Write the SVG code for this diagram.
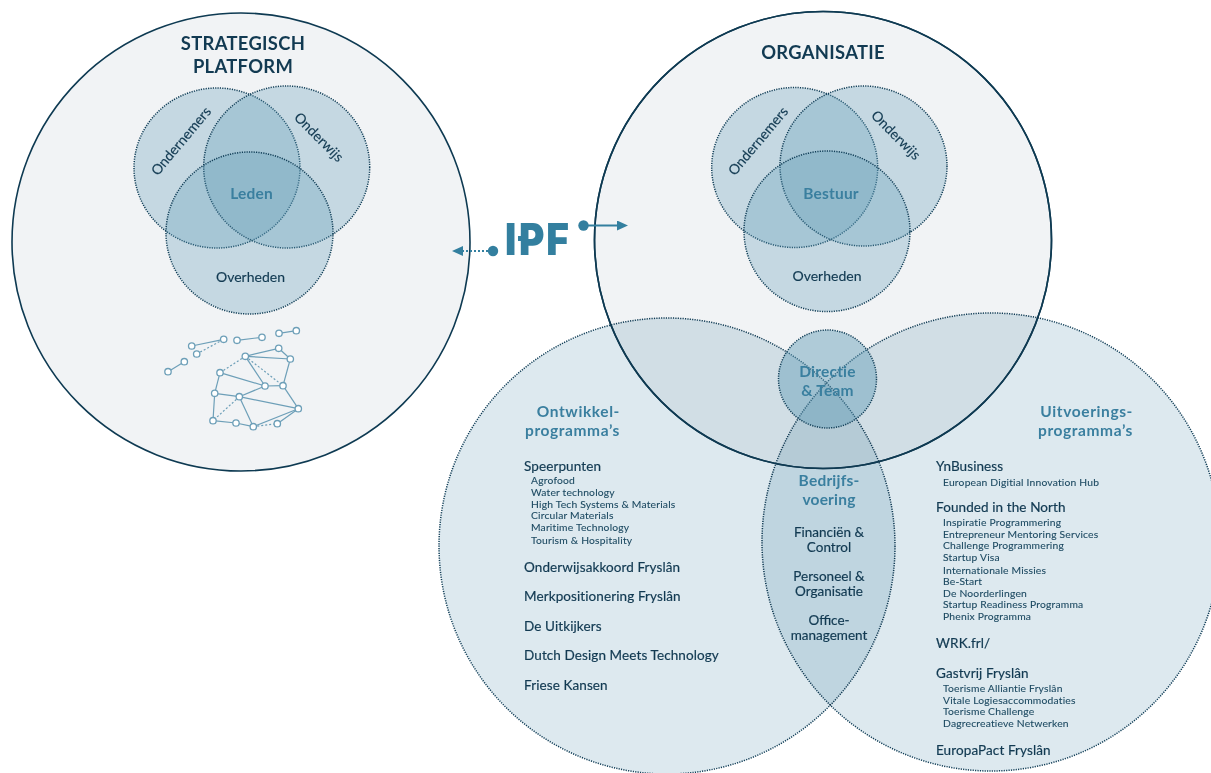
<svg xmlns="http://www.w3.org/2000/svg" width="1211" height="773" viewBox="0 0 1211 773">
<style>
text{font-family:"Lato","Liberation Sans",sans-serif;fill:#123a52}
.big{fill:#f1f3f5;stroke:#0e3a52;stroke-width:1.6}
.v{fill:#5f9cb6;fill-opacity:.3;stroke:#123f58;stroke-width:1.5;stroke-dasharray:1.2 1.2}
.b{fill:#dde9ef;stroke:#123f58;stroke-width:1.5;stroke-dasharray:1.2 1.2;mix-blend-mode:multiply}
.o{fill:none;stroke:#0e3a52;stroke-width:1.6}
.t{font-size:18.4px;font-weight:700;text-anchor:middle;letter-spacing:.3px}
.a{font-size:14px;text-anchor:middle;stroke:#123a52;stroke-width:.15}
.h{font-size:15.5px;font-weight:700;fill:#3a7f9f;text-anchor:middle;letter-spacing:.2px}
.hr{font-size:15.5px;font-weight:700;fill:#3a7f9f;text-anchor:end;letter-spacing:.6px}
.m{font-size:13.5px;letter-spacing:.1px;stroke:#123a52;stroke-width:.2}
.c{font-size:13.5px;text-anchor:middle;stroke:#123a52;stroke-width:.2}
.s{font-size:10.3px;letter-spacing:.2px;fill:#1d4a62;stroke:#1d4a62;stroke-width:.1}
.n line{stroke:#6d9fb8;stroke-width:1.2}
.n line.d{stroke-dasharray:2 2}
.n circle{fill:#fff;stroke:#6d9fb8;stroke-width:1.3}
.l{stroke:#337f9f;stroke-width:2}
.dot{fill:#337f9f}
</style>
<defs>
<marker id="ah" markerWidth="11" markerHeight="10" refX="1" refY="5" orient="auto" markerUnits="userSpaceOnUse"><path d="M0 0L11 5L0 10Z" fill="#337f9f"/></marker>
</defs>
<rect width="1211" height="773" fill="#fff"/>

<g id="platform">
<circle class="big" cx="241" cy="242" r="229"/>
<text class="t" x="243" y="50">STRATEGISCH</text>
<text class="t" x="243" y="73">PLATFORM</text>
</g>
<g id="platform-ondernemers"><ellipse class="v" cx="217" cy="168" rx="83" ry="80"/></g>
<g id="platform-onderwijs"><ellipse class="v" cx="286.7" cy="167" rx="83" ry="81"/></g>
<g id="platform-overheden"><ellipse class="v" cx="249.5" cy="233" rx="83.5" ry="81"/></g>
<text class="a" transform="translate(181 141) rotate(-50)" y="5">Ondernemers</text>
<text class="a" transform="translate(319 137) rotate(45)" y="5">Onderwijs</text>
<text class="a" x="250.5" y="282">Overheden</text>
<text class="h" x="251.5" y="199">Leden</text>

<g id="network" class="n">
<line x1="168" y1="371.7" x2="184.3" y2="361.7"/>
<line x1="191.7" y1="346" x2="223.7" y2="339.3"/>
<line class="d" x1="196.7" y1="354" x2="223.7" y2="339.3"/>
<line x1="237" y1="340.3" x2="262" y2="337.3"/>
<line x1="279" y1="333.3" x2="296.3" y2="330.7"/>
<line x1="245.3" y1="356.3" x2="278.7" y2="348.3"/>
<line x1="278.7" y1="348.3" x2="290.3" y2="359"/>
<line x1="245.3" y1="356.3" x2="290.3" y2="359"/>
<line x1="290.3" y1="359" x2="283" y2="385.7"/>
<line x1="245.3" y1="356.3" x2="265" y2="386"/>
<line x1="220" y1="372.7" x2="265" y2="386"/>
<line x1="220" y1="372.7" x2="214.7" y2="393.3"/>
<line x1="214.7" y1="393.3" x2="239.3" y2="396.7"/>
<line x1="239.3" y1="396.7" x2="265" y2="386"/>
<line x1="265" y1="386" x2="283" y2="385.7"/>
<line x1="283" y1="385.7" x2="298.3" y2="408.7"/>
<line x1="239.3" y1="396.7" x2="298.3" y2="408.7"/>
<line x1="214.7" y1="393.3" x2="213" y2="420.7"/>
<line x1="213" y1="420.7" x2="236" y2="423"/>
<line x1="236" y1="423" x2="253.3" y2="426.7"/>
<line x1="239.3" y1="396.7" x2="253.3" y2="426.7"/>
<line x1="253.3" y1="426.7" x2="298.3" y2="408.7"/>
<line x1="277.3" y1="423.7" x2="298.3" y2="408.7"/>
<line class="d" x1="245.3" y1="356.3" x2="220" y2="372.7"/>
<line class="d" x1="245.3" y1="356.3" x2="283" y2="385.7"/>
<line class="d" x1="239.3" y1="396.7" x2="213" y2="420.7"/>
<line class="d" x1="253.3" y1="426.7" x2="277.3" y2="423.7"/>
<circle cx="168" cy="371.7" r="3.2"/><circle cx="184.3" cy="361.7" r="3.2"/>
<circle cx="191.7" cy="346" r="3.2"/><circle cx="223.7" cy="339.3" r="3.2"/><circle cx="196.7" cy="354" r="3.2"/>
<circle cx="237" cy="340.3" r="3.2"/><circle cx="262" cy="337.3" r="3.2"/>
<circle cx="279" cy="333.3" r="3.2"/><circle cx="296.3" cy="330.7" r="3.2"/>
<circle cx="245.3" cy="356.3" r="3.2"/><circle cx="278.7" cy="348.3" r="3.2"/><circle cx="290.3" cy="359" r="3.2"/>
<circle cx="220" cy="372.7" r="3.2"/><circle cx="265" cy="386" r="3.2"/><circle cx="283" cy="385.7" r="3.2"/>
<circle cx="214.7" cy="393.3" r="3.2"/><circle cx="239.3" cy="396.7" r="3.2"/><circle cx="298.3" cy="408.7" r="3.2"/>
<circle cx="213" cy="420.7" r="3.2"/><circle cx="236" cy="423" r="3.2"/><circle cx="253.3" cy="426.7" r="3.2"/><circle cx="277.3" cy="423.7" r="3.2"/>
</g>

<g id="organisatie">
<circle class="big" cx="823" cy="240" r="228.5"/>
<text class="t" x="823" y="59">ORGANISATIE</text>
</g>
<g id="org-ondernemers"><ellipse class="v" cx="794.7" cy="167.5" rx="83" ry="80"/></g>
<g id="org-onderwijs"><ellipse class="v" cx="863.5" cy="166" rx="83.5" ry="80"/></g>
<g id="org-overheden"><ellipse class="v" cx="827" cy="231.3" rx="83" ry="80.3"/></g>
<text class="a" transform="translate(758 141) rotate(-50)" y="5">Ondernemers</text>
<text class="a" transform="translate(896 135) rotate(45)" y="5">Onderwijs</text>
<text class="a" x="827" y="281">Overheden</text>
<text class="h" x="831" y="199">Bestuur</text>

<g id="ontwikkel"><circle class="b" cx="667" cy="546" r="228"/></g>
<g id="uitvoering"><circle class="b" cx="991" cy="542" r="229"/></g>
<circle class="o" cx="823" cy="240" r="228.5"/>
<g id="directie">
<circle class="v" style="fill-opacity:.45" cx="827.5" cy="379" r="49"/>
<text class="h" x="827.5" y="377">Directie</text>
<text class="h" x="827.5" y="396">&amp; Team</text>
</g>

<g id="ontwikkel-tekst">
<text class="hr" x="620" y="417">Ontwikkel-</text>
<text class="hr" x="620" y="436">programma’s</text>
<text class="m" x="524" y="471">Speerpunten</text>
<text class="s" x="531" y="484">Agrofood</text>
<text class="s" x="531" y="496">Water technology</text>
<text class="s" x="531" y="507.5">High Tech Systems &amp; Materials</text>
<text class="s" x="531" y="519">Circular Materials</text>
<text class="s" x="531" y="531">Maritime Technology</text>
<text class="s" x="531" y="544">Tourism &amp; Hospitality</text>
<text class="m" x="524" y="572">Onderwijsakkoord Fryslân</text>
<text class="m" x="524" y="601">Merkpositionering Fryslân</text>
<text class="m" x="524" y="631">De Uitkijkers</text>
<text class="m" x="524" y="660">Dutch Design Meets Technology</text>
<text class="m" x="524" y="690">Friese Kansen</text>
</g>

<g id="bedrijfsvoering">
<text class="h" x="829" y="486">Bedrijfs-</text>
<text class="h" x="829" y="505">voering</text>
<text class="c" x="829" y="537">Financiën &amp;</text>
<text class="c" x="829" y="552">Control</text>
<text class="c" x="829" y="581">Personeel &amp;</text>
<text class="c" x="829" y="596">Organisatie</text>
<text class="c" x="829" y="625">Office-</text>
<text class="c" x="829" y="640">management</text>
</g>

<g id="uitvoering-tekst">
<text class="hr" x="1133" y="417">Uitvoerings-</text>
<text class="hr" x="1133" y="436">programma’s</text>
<text class="m" x="936" y="471">YnBusiness</text>
<text class="s" x="943" y="486">European Digitial Innovation Hub</text>
<text class="m" x="936" y="512">Founded in the North</text>
<text class="s" x="943" y="526">Inspiratie Programmering</text>
<text class="s" x="943" y="537.5">Entrepreneur Mentoring Services</text>
<text class="s" x="943" y="549">Challenge Programmering</text>
<text class="s" x="943" y="561">Startup Visa</text>
<text class="s" x="943" y="574">Internationale Missies</text>
<text class="s" x="943" y="585">Be-Start</text>
<text class="s" x="943" y="597">De Noorderlingen</text>
<text class="s" x="943" y="608">Startup Readiness Programma</text>
<text class="s" x="943" y="620">Phenix Programma</text>
<text class="m" x="936" y="648">WRK.frl/</text>
<text class="m" x="936" y="678">Gastvrij Fryslân</text>
<text class="s" x="943" y="692">Toerisme Alliantie Fryslân</text>
<text class="s" x="943" y="704">Vitale Logiesaccommodaties</text>
<text class="s" x="943" y="715">Toerisme Challenge</text>
<text class="s" x="943" y="727">Dagrecreatieve Netwerken</text>
<text class="m" x="936" y="755">EuropaPact Fryslân</text>
</g>

<g id="ipf">
<text transform="translate(505 255) scale(.88 1)" x="0 16 47" y="0" style="font-family:Inter,'Liberation Sans',sans-serif;font-size:44px;font-weight:900;fill:#337f9f">IPF</text>
<rect x="518" y="236" width="6" height="5" fill="#337f9f"/>
</g>
<g id="connectors">
<circle class="dot" cx="493" cy="251" r="5.2"/>
<line class="l" x1="488" y1="251" x2="462" y2="251" stroke-dasharray="2 2" marker-end="url(#ah)"/>
<circle class="dot" cx="583.5" cy="225.5" r="5.2"/>
<line class="l" x1="588" y1="225.5" x2="618" y2="225.5" marker-end="url(#ah)"/>
</g>
</svg>
